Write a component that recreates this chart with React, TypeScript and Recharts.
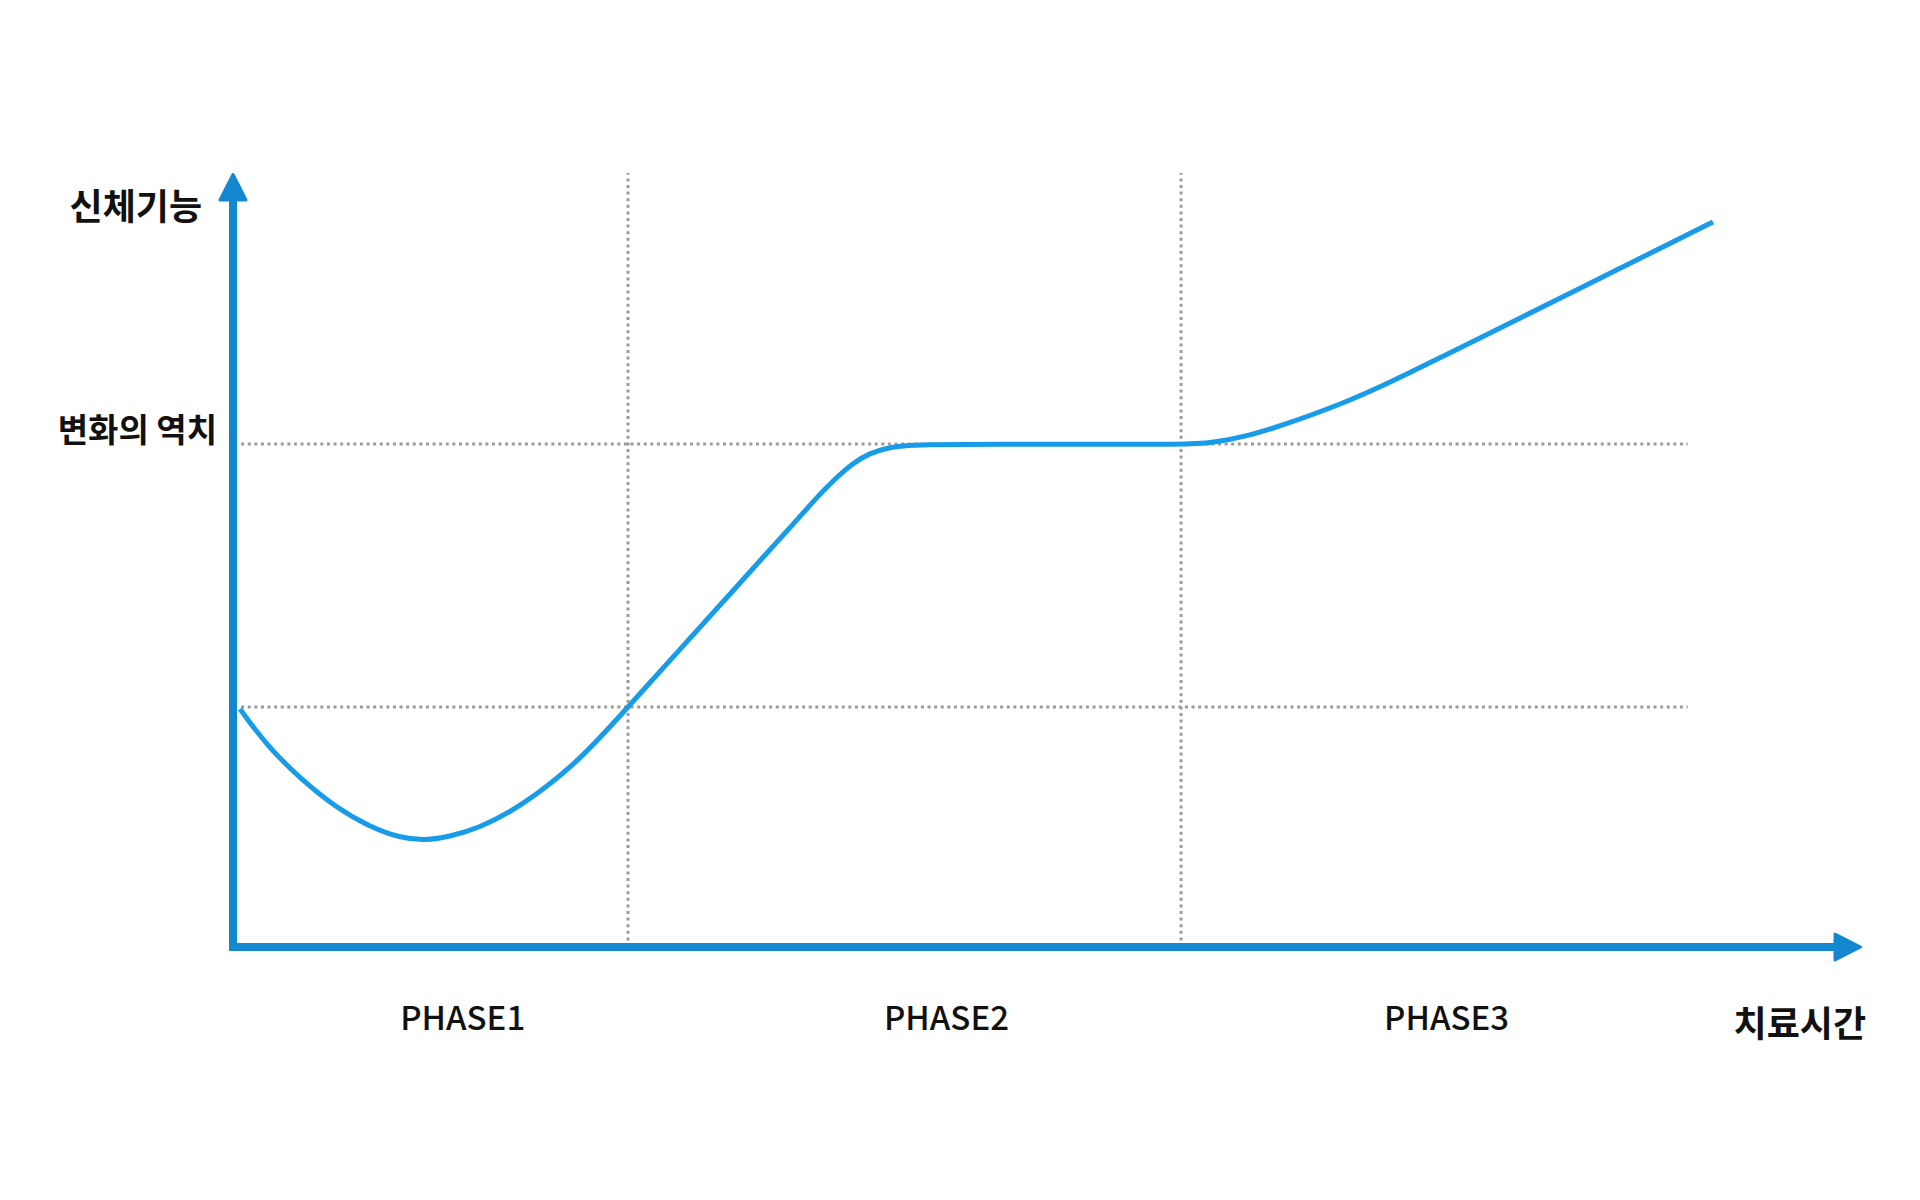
import React from "react";
import { LineChart, Line, XAxis, YAxis, ReferenceLine, Label } from "recharts";

const FONT = '"Noto Sans CJK KR", "Noto Sans", sans-serif';
const AXIS_BLUE = "#1487d1";
const CURVE_BLUE = "#169ce8";
const GRID_GRAY = "#9b9b9b";

// 치료시간 / 신체기능, both on a 0..100 scale
const X_MAX = 100;
const Y_MAX = 100;

const time = [
  0.43, 2.09, 4.11, 6.26, 8.41, 10.25, 11.79, 13.32, 15.16, 17.0, 18.85, 20.69, 22.53, 24.25,
  27.44, 31.12, 34.81, 36.03, 37.08, 38.06, 39.1, 40.15, 41.13, 42.17, 47.08, 53.22, 58.19,
  60.16, 62.43, 64.27, 66.3, 68.39, 70.41, 72.44, 74.46, 76.55, 79.01, 82.08, 85.14, 88.21, 90.85,
];
const body = [
  30.75, 26.0, 21.8, 18.1, 15.5, 14.1, 13.75, 14.25, 15.45, 17.4, 20.03, 23.13, 27.0, 31.01,
  38.46, 47.03, 55.62, 58.53, 60.72, 62.53, 63.82, 64.47, 64.73, 64.9, 64.95, 64.95, 64.9,
  65.12, 66.09, 67.31, 68.8, 70.48, 72.35, 74.42, 76.51, 78.68, 81.25, 84.47, 87.69, 90.9, 93.67,
];

const PHASE_TICKS = [14.1, 43.8, 74.5];
const PHASE_LABELS = ["PHASE1", "PHASE2", "PHASE3"];
const PHASE_BOUNDS = [24.25, 58.2];

const THRESHOLD = 65;
const LOWER_LEVEL = 31;
const GUIDE_START = 0.5;
const GUIDE_END = 89.3;

const data = time.map((t, i) => ({ t, v: body[i] }));

// axis line with a rounded triangle head at the end point
function ArrowAxis(props: any) {
  const { x1, y1, x2, y2 } = props;
  const dx = x2 - x1;
  const dy = y2 - y1;
  const len = Math.hypot(dx, dy) || 1;
  const ux = dx / len;
  const uy = dy / len;
  const px = -uy;
  const py = ux;
  const head = 27;
  const half = 13;
  const bx = x2 - ux * head;
  const by = y2 - uy * head;
  return (
    <g>
      <line
        x1={x1 - ux * 4}
        y1={y1 - uy * 4}
        x2={bx + ux * 2}
        y2={by + uy * 2}
        stroke={AXIS_BLUE}
        strokeWidth={8}
      />
      <polygon
        points={`${x2 - ux * 1.5},${y2 - uy * 1.5} ${bx + px * half},${by + py * half} ${bx - px * half},${by - py * half}`}
        fill={AXIS_BLUE}
        stroke={AXIS_BLUE}
        strokeWidth={3}
        strokeLinejoin="round"
      />
    </g>
  );
}

function PhaseTick({ x, y, index }: any) {
  return (
    <text x={x} y={y} dy={83} textAnchor="middle" fontFamily={FONT} fontSize={33} fontWeight={500} fill="#111">
      {PHASE_LABELS[index]}
    </text>
  );
}

function LevelTick({ x, y }: any) {
  return (
    <text x={x} y={y} dx={-16} dy={-2} textAnchor="end" fontFamily={FONT} fontSize={33} fontWeight={700} fill="#111">
      변화의 역치
    </text>
  );
}

export default function App() {
  return (
    <div style={{ position: "absolute", left: 0, top: 0, width: 1920, height: 1200, background: "#fff" }}>
      <LineChart width={1920} height={1200} data={data} margin={{ top: 173, right: 58, left: 0, bottom: 133 }}>
        <XAxis
          type="number"
          dataKey="t"
          domain={[0, X_MAX]}
          allowDataOverflow
          ticks={PHASE_TICKS}
          interval={0}
          height={120}
          axisLine={false}
          tickLine={false}
          tickSize={0}
          tickMargin={0}
          tick={<PhaseTick />}
        >
          <Label
            content={(p: any) => {
              const vb = p.viewBox;
              return (
                <text
                  x={vb.x + vb.width + 4}
                  y={vb.y + 90}
                  textAnchor="end"
                  fontFamily={FONT}
                  fontSize={36}
                  fontWeight={700}
                  fill="#111"
                >
                  치료시간
                </text>
              );
            }}
          />
        </XAxis>
        <YAxis
          type="number"
          domain={[0, Y_MAX]}
          allowDataOverflow
          ticks={[THRESHOLD]}
          width={233}
          axisLine={false}
          tickLine={false}
          tickSize={0}
          tickMargin={0}
          tick={<LevelTick />}
        >
          <Label
            content={(p: any) => {
              const vb = p.viewBox;
              return (
                <text
                  x={vb.x + vb.width - 31}
                  y={vb.y + 47}
                  textAnchor="end"
                  fontFamily={FONT}
                  fontSize={36}
                  fontWeight={700}
                  fill="#111"
                >
                  신체기능
                </text>
              );
            }}
          />
        </YAxis>

        {PHASE_BOUNDS.map((b) => (
          <ReferenceLine key={b} x={b} stroke={GRID_GRAY} strokeWidth={3} strokeDasharray="3 3.6" />
        ))}
        {[THRESHOLD, LOWER_LEVEL].map((lv) => (
          <ReferenceLine
            key={lv}
            segment={[
              { x: GUIDE_START, y: lv },
              { x: GUIDE_END, y: lv },
            ]}
            stroke={GRID_GRAY}
            strokeWidth={3}
            strokeDasharray="3 3.6"
          />
        ))}

        <Line
          type="basis"
          dataKey="v"
          stroke={CURVE_BLUE}
          strokeWidth={5}
          dot={false}
          activeDot={false}
          isAnimationActive={false}
        />

        <ReferenceLine
          segment={[
            { x: 0, y: 0 },
            { x: X_MAX, y: 0 },
          ]}
          shape={<ArrowAxis />}
        />
        <ReferenceLine
          segment={[
            { x: 0, y: 0 },
            { x: 0, y: Y_MAX },
          ]}
          shape={<ArrowAxis />}
        />
      </LineChart>
    </div>
  );
}
